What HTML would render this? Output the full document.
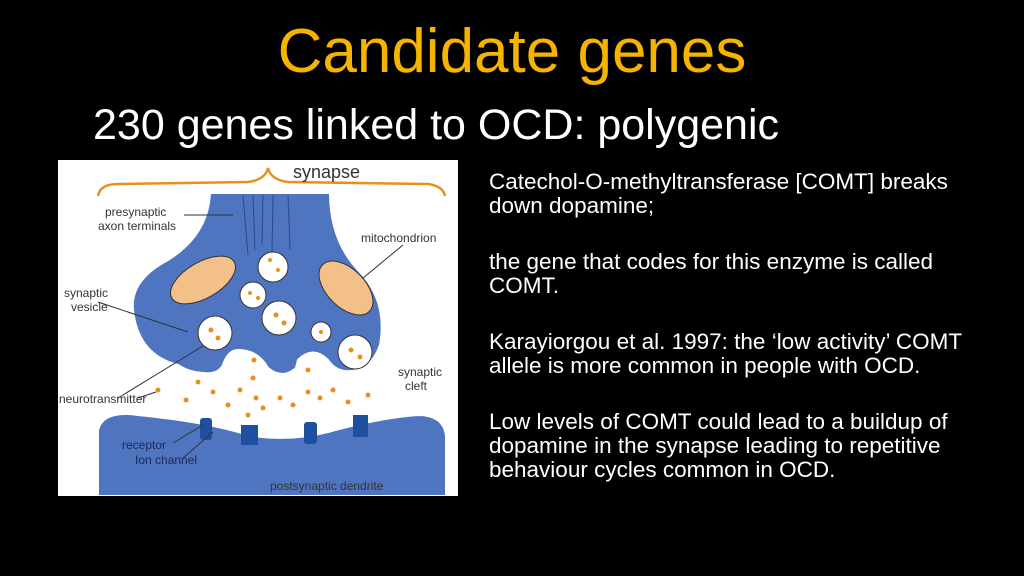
<!DOCTYPE html>
<html><head><style>
body{margin:0;width:1024px;height:576px;background:#000;overflow:hidden;position:relative;font-family:"Liberation Sans",sans-serif}
.t{position:absolute;left:0;width:1024px;text-align:center;top:16px;font-size:62px;line-height:72px;color:#f5b400}
.s{position:absolute;left:93px;top:99px;font-size:43px;line-height:52px;color:#fff}
.r{position:absolute;left:489px;top:170px;width:480px;font-size:22.5px;line-height:24px;color:#fff}
.r p{margin:0 0 32px 0}
svg{position:absolute;left:58px;top:160px}
</style></head><body>
<div class="t">Candidate genes</div>
<div class="s">230 genes linked to OCD: polygenic</div>
<div class="r">
<p>Catechol-O-methyltransferase [COMT] breaks down dopamine;</p>
<p>the gene that codes for this enzyme is called COMT.</p>
<p>Karayiorgou et al. 1997: the ‘low activity’ COMT allele is more common in people with OCD.</p>
<p>Low levels of COMT could lead to a buildup of dopamine in the synapse leading to repetitive behaviour cycles common in OCD.</p>
</div>
<svg width="400" height="336" viewBox="0 0 400 336" font-family="Liberation Sans,sans-serif">
<rect width="400" height="336" fill="#fff"/>
<path d="M40 36 Q42 24 60 24 L190 22 Q207 20 210 8 Q213 20 230 22 L370 24 Q385 26 387 36" fill="none" stroke="#e8901c" stroke-width="2.5"/>
<text x="235" y="18" font-size="18" fill="#333">synapse</text>
<path d="M152 33 L272 33 Q272 80 300 110 Q330 140 322 185 Q315 205 300 210 Q280 215 270 200 Q255 185 240 200 L238 208 Q225 220 210 208 Q200 190 180 190 Q170 190 165 205 Q160 215 145 213 Q130 212 120 205 Q80 195 75 150 Q72 120 110 100 Q150 75 152 33Z" fill="#4f74c0" stroke="#fff" stroke-width="2"/>
<path d="M40 336 L40 270 Q45 250 80 255 Q150 262 190 275 Q230 282 270 272 Q320 258 360 255 Q385 255 388 275 L388 336Z" fill="#4f74c0" stroke="#fff" stroke-width="2"/>
<g stroke="#2d4a90" stroke-width="1"><path d="M185 35 L190 95"/><path d="M195 35 L197 90"/><path d="M205 35 L204 85"/><path d="M215 35 L214 95"/><path d="M230 35 L232 90"/></g>
<ellipse cx="145" cy="120" rx="36" ry="18" transform="rotate(-30 145 120)" fill="#f3c08a" stroke="#333"/>
<ellipse cx="288" cy="128" rx="33" ry="19" transform="rotate(45 288 128)" fill="#f3c08a" stroke="#333"/>
<g fill="#fff" stroke="#333"><circle cx="215" cy="107" r="15"/><circle cx="195" cy="135" r="13"/><circle cx="221" cy="158" r="17"/><circle cx="157" cy="173" r="17"/><circle cx="263" cy="172" r="10"/><circle cx="297" cy="192" r="17"/></g>
<g fill="#e8901c"><circle cx="212" cy="100" r="2"/><circle cx="220" cy="110" r="2"/><circle cx="192" cy="133" r="2"/><circle cx="200" cy="138" r="2"/><circle cx="218" cy="155" r="2.5"/><circle cx="226" cy="163" r="2.5"/><circle cx="153" cy="170" r="2.5"/><circle cx="160" cy="178" r="2.5"/><circle cx="263" cy="172" r="2"/><circle cx="293" cy="190" r="2.5"/><circle cx="302" cy="197" r="2.5"/>
<circle cx="140" cy="222" r="2.5"/><circle cx="155" cy="232" r="2.5"/><circle cx="128" cy="240" r="2.5"/><circle cx="170" cy="245" r="2.5"/><circle cx="182" cy="230" r="2.5"/><circle cx="195" cy="218" r="2.5"/><circle cx="198" cy="238" r="2.5"/><circle cx="190" cy="255" r="2.5"/><circle cx="205" cy="248" r="2.5"/><circle cx="222" cy="238" r="2.5"/><circle cx="235" cy="245" r="2.5"/><circle cx="250" cy="232" r="2.5"/><circle cx="262" cy="238" r="2.5"/><circle cx="275" cy="230" r="2.5"/><circle cx="290" cy="242" r="2.5"/><circle cx="310" cy="235" r="2.5"/><circle cx="100" cy="230" r="2.5"/><circle cx="250" cy="210" r="2.5"/><circle cx="196" cy="200" r="2.5"/></g>
<g fill="#1f4f9f"><rect x="142" y="258" width="12" height="22" rx="3"/><rect x="183" y="265" width="17" height="20"/><rect x="246" y="262" width="13" height="22" rx="3"/><rect x="295" y="255" width="15" height="22"/></g>
<g stroke="#333" stroke-width="1" fill="none"><path d="M126 55 L175 55"/><path d="M345 85 L305 118"/><path d="M40 142 L130 172"/><path d="M60 238 L145 186"/><path d="M80 238 L98 232"/><path d="M115 283 L145 265"/><path d="M125 298 L155 272"/></g>
<g font-size="12" fill="#333"><text x="47" y="56">presynaptic</text><text x="40" y="70">axon terminals</text><text x="303" y="82">mitochondrion</text><text x="6" y="137">synaptic</text><text x="13" y="151">vesicle</text><text x="340" y="216">synaptic</text><text x="347" y="230">cleft</text><text x="1" y="243">neurotransmitter</text><text x="64" y="289" fill="#1c2a55">receptor</text><text x="77" y="304" fill="#1c2a55">Ion channel</text><text x="212" y="330">postsynaptic dendrite</text></g>
</svg>
</body></html>
